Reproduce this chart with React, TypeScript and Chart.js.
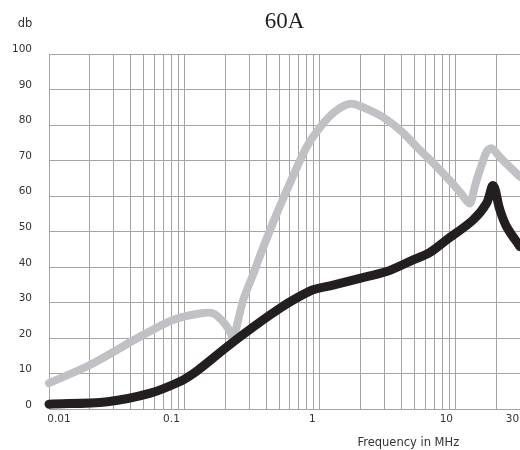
import React, { useEffect, useRef } from "react";
import { Chart, registerables } from "chart.js";

Chart.register(...registerables);

// ---- data ----
const grayFreq = [0.01, 0.02, 0.047, 0.082, 0.13, 0.162, 0.193, 0.217, 0.229, 0.27, 0.32, 0.365, 0.45, 0.57, 0.8, 1.06, 1.33, 1.7, 2.3, 2.93, 4.0, 5.17, 7.0, 9.1, 11, 12.8, 13.9, 15.2, 17, 18.5, 21, 24, 30];
const grayDb = [7.4, 12.5, 20.5, 25.2, 27.0, 27.1, 24.7, 21.9, 20.0, 30.5, 37.8, 43.7, 52.5, 61.7, 73.9, 80.5, 84.2, 86.0, 84.3, 82.2, 78.3, 73.9, 69.0, 64.4, 60.8, 58.0, 62.7, 67.4, 72.5, 73.5, 71.3, 69.0, 65.5];

const blackFreq = [0.01, 0.027, 0.056, 0.093, 0.115, 0.13, 0.217, 0.38, 0.507, 0.635, 0.89, 1.19, 1.97, 3.1, 4.88, 6.5, 8.61, 13.5, 17, 19, 21.3, 23.9, 30];
const blackDb = [1.5, 2.2, 4.6, 7.9, 10.0, 11.5, 18.3, 25.2, 28.5, 30.8, 33.7, 34.8, 36.9, 38.8, 42.1, 44.2, 47.7, 53.3, 58.0, 63.0, 56.2, 51.4, 45.8];

const decades = [0.01, 0.1, 1, 10];
const multipliers = [1, 2, 3, 4, 5, 6, 7, 8, 9];
const xMin = 0.01;
const xMax = 30;

const xTickValues = [0.01, 0.1, 1, 10, 30];
const xTickLabels = ["0.01", "0.1", "1", "10", "30"];
const xTickShift = [10, -13, -7.5, -9, -7.5];

const title = "60A";
const yUnit = "db";
const xTitle = "Frequency in MHz";

const GRID = "#a4a4a4";
const TEXT = "#333333";
const SANS = '"DejaVu Sans", sans-serif';

const textPlugin = {
  id: "texts",
  afterDraw(chart: any) {
    const { ctx, chartArea, scales } = chart;
    const xs = scales.x;
    ctx.save();
    ctx.fillStyle = TEXT;
    ctx.font = `10.5px ${SANS}`;
    ctx.textAlign = "center";
    ctx.textBaseline = "middle";
    xTickValues.forEach((v, i) => {
      ctx.fillText(xTickLabels[i], xs.getPixelForValue(v) + xTickShift[i], chartArea.bottom + 9.5);
    });
    ctx.font = `11.5px ${SANS}`;
    ctx.textBaseline = "alphabetic";
    ctx.textAlign = "right";
    ctx.fillText(yUnit, 24.3, 18.7);
    ctx.textAlign = "center";
    ctx.fillText(xTitle, 400.3, 438);
    ctx.fillStyle = "#231f20";
    ctx.font = '23px "Liberation Serif", serif';
    ctx.fillText(title, (chartArea.left + chartArea.right) / 2, 20.3);
    ctx.restore();
  },
};

export default function App() {
  const ref = useRef<HTMLCanvasElement | null>(null);
  useEffect(() => {
    if (!ref.current) return;
    const gridValues: number[] = [];
    decades.forEach((d) =>
      multipliers.forEach((m) => {
        const v = +(d * m).toPrecision(6);
        if (v <= xMax) gridValues.push(v);
      })
    );
    if (gridValues[gridValues.length - 1] !== xMax) gridValues.push(xMax);

    const chart = new Chart(ref.current, {
      type: "line",
      data: {
        datasets: [
          {
            label: "black",
            data: blackFreq.map((f, i) => ({ x: f, y: blackDb[i] })),
            borderColor: "#231f20",
            borderWidth: 9,
            pointRadius: 0,
            tension: 0.35,
            borderCapStyle: "round",
            borderJoinStyle: "round",
            clip: 8,
          },
          {
            label: "gray",
            data: grayFreq.map((f, i) => ({ x: f, y: grayDb[i] })),
            borderColor: "#c0c1c4",
            borderWidth: 8,
            pointRadius: 0,
            tension: 0.3,
            borderCapStyle: "round",
            borderJoinStyle: "round",
            clip: 8,
          },
        ],
      },
      options: {
        responsive: true,
        maintainAspectRatio: false,
        animation: false,
        layout: { autoPadding: false, padding: { top: 46, left: 0, right: 0, bottom: 0 } },
        plugins: {
          legend: { display: false },
          tooltip: { enabled: false },
          title: { display: false },
        },
        scales: {
          x: {
            type: "logarithmic",
            min: xMin,
            max: xMax,
            afterBuildTicks: (s: any) => {
              s.ticks = gridValues.map((v) => ({ value: v }));
            },
            afterFit: (s: any) => {
              s.height = 40.5;
            },
            ticks: { display: false, autoSkip: false },
            grid: { color: GRID, lineWidth: 1, drawTicks: false },
            border: { color: GRID, width: 1 },
          },
          y: {
            min: 0,
            max: 100,
            afterFit: (s: any) => {
              s.width = 41;
            },
            ticks: {
              stepSize: 10,
              padding: 17,
              labelOffset: -4.5,
              color: TEXT,
              font: { family: SANS, size: 10.5 },
            },
            grid: { color: GRID, lineWidth: 1, drawTicks: false },
            border: { color: GRID, width: 1 },
          },
        },
      },
      plugins: [textPlugin],
    } as any);
    return () => chart.destroy();
  }, []);

  return (
    <div style={{ position: "absolute", left: 8, top: 8, width: 512, height: 442 }}>
      <canvas ref={ref} />
    </div>
  );
}
